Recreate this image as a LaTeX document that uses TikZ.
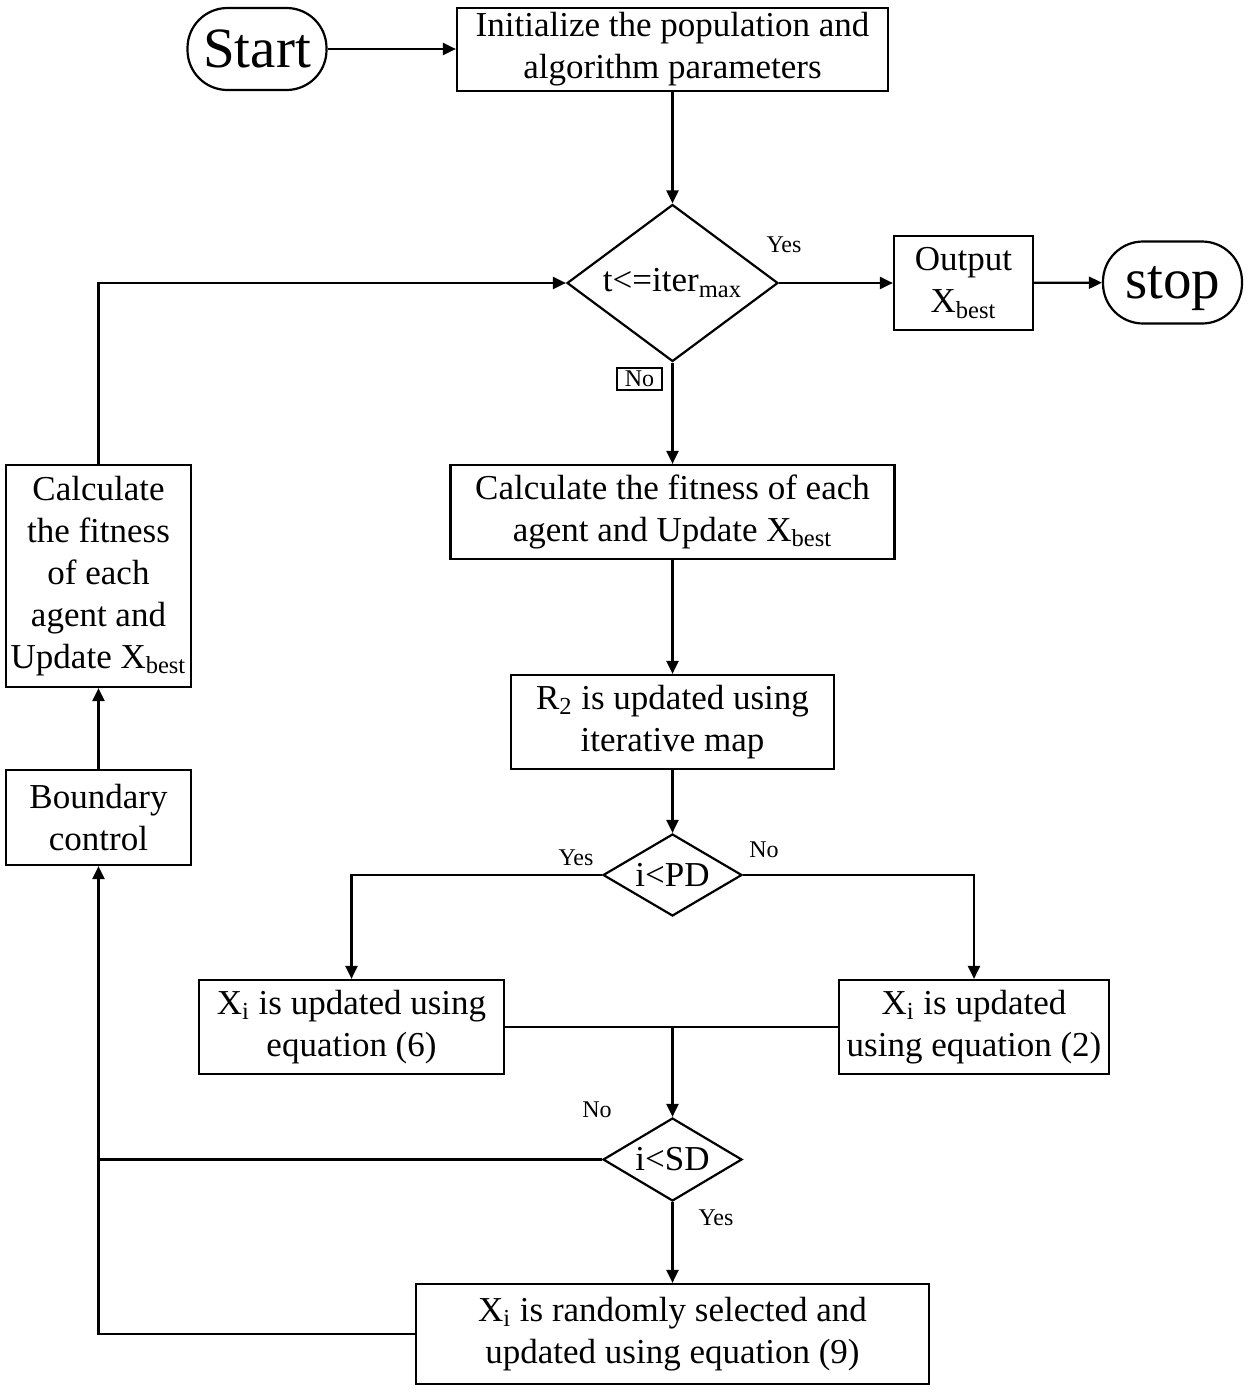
\documentclass[tikz,border=0pt]{standalone}
\usepackage{fontspec}
\setmainfont{Liberation Serif}
\usepackage{tikz}
\usetikzlibrary{arrows.meta}
\usetikzlibrary{shapes.geometric}

\begin{document}
\begin{tikzpicture}[
x                 = 0.5pt,
y                 = -0.5pt,
line width        = 1.1pt,
flowarrow/.style  = {draw, -{Triangle[length=6.5pt, width=6pt]}},
every node/.style = {font=\fontsize{17.5}{21}\selectfont},
procbox/.style    = {rectangle, draw, align=center, inner sep=0pt},
decision/.style   = {diamond, draw, aspect=1.7, inner sep=0pt},
terminal/.style   = {rectangle, draw, rounded corners=20pt, minimum width=69.5pt, minimum height=41pt, font=\fontsize{28.5}{32}\selectfont},
answer/.style     = {font=\fontsize{12}{14}\selectfont, inner sep=0pt}
]

\useasboundingbox (0,0) rectangle (1250,1392);

%\tikzstyle{every node}=[rectangle,draw]

\node [terminal] (start) at (257,49) {Start};
\node [procbox, minimum width=215.5pt, minimum height=41.5pt] (init) at (672.5,49.5) {Initialize the population and\\algorithm parameters};
\node [decision, minimum width=105.5pt, minimum height=78.5pt] (iter) at (672.5,283) {t<=iter\textsubscript{max}};
\node [procbox, minimum width=69.5pt, minimum height=47pt] (output) at (963.5,283) {Output\\X\textsubscript{best}};
\node [terminal, text depth=0pt] (stop) at (1172.5,282.5) {stop};
\node [procbox, minimum width=222pt, minimum height=47pt] (fitness) at (672.5,512) {Calculate the fitness of each\\agent and Update X\textsubscript{best}};
\node [procbox, minimum width=161.5pt, minimum height=47pt] (chaos) at (672.5,722) {R\textsubscript{2} is updated using\\iterative map};
\node [decision, minimum width=69.5pt, minimum height=41pt] (pd) at (672.5,875) {i<PD};
\node [procbox, minimum width=152.5pt, minimum height=47pt] (eqsix) at (351.5,1027) {X\textsubscript{i} is updated using\\equation (6)};
\node [procbox, minimum width=135pt, minimum height=47pt] (eqtwo) at (974,1027) {X\textsubscript{i} is updated\\using equation (2)};
\node [decision, minimum width=69.5pt, minimum height=41.5pt] (sd) at (672.5,1159.5) {i<SD};
\node [procbox, minimum width=256.5pt, minimum height=50pt] (eqnine) at (672.5,1334) {X\textsubscript{i} is randomly selected and\\updated using equation (9)};
\node [procbox, minimum width=92.5pt, minimum height=47.5pt] (bound) at (98.5,817.5) {Boundary\\control};
\node [procbox, minimum width=92.5pt, minimum height=111pt] (fitleft) at (98.5,576) {Calculate\\the fitness\\of each\\agent and\\Update X\textsubscript{best}};

\node [answer] (yesiter) at (784,245) {Yes};
\node [answer, draw, minimum width=22.5pt, minimum height=11pt, line width=0.8pt] (noiter) at (639.5,379) {No};
\node [answer] (yespd) at (576,858) {Yes};
\node [answer] (nopd) at (764,850) {No};
\node [answer] (nosd) at (597,1110) {No};
\node [answer] (yessd) at (716,1218) {Yes};

\coordinate (merge) at (672.5,1027);

\draw [flowarrow] (start.east) -- (start.east -| init.west);
\draw [flowarrow] (init) -- (iter);
\draw [flowarrow] (iter) -- (output);
\draw [flowarrow] (output) -- (stop);
\draw [flowarrow] (iter) -- (fitness);
\draw [flowarrow] (fitness) -- (chaos);
\draw [flowarrow] (chaos) -- (pd);
\draw [flowarrow] (pd.west) -| (eqsix.north);
\draw [flowarrow] (pd.east) -| (eqtwo.north);
\draw (eqsix.east) -- (eqtwo.west);
\draw [flowarrow] (merge) -- (sd);
\draw [flowarrow] (sd) -- (eqnine);
\draw (sd.west) -- (sd.west -| bound.south);
\draw [flowarrow] (eqnine.west) -| (bound.south);
\draw [flowarrow] (bound) -- (fitleft);
\draw [flowarrow] (fitleft.north) |- (iter.west);
\end{tikzpicture}
\end{document}
